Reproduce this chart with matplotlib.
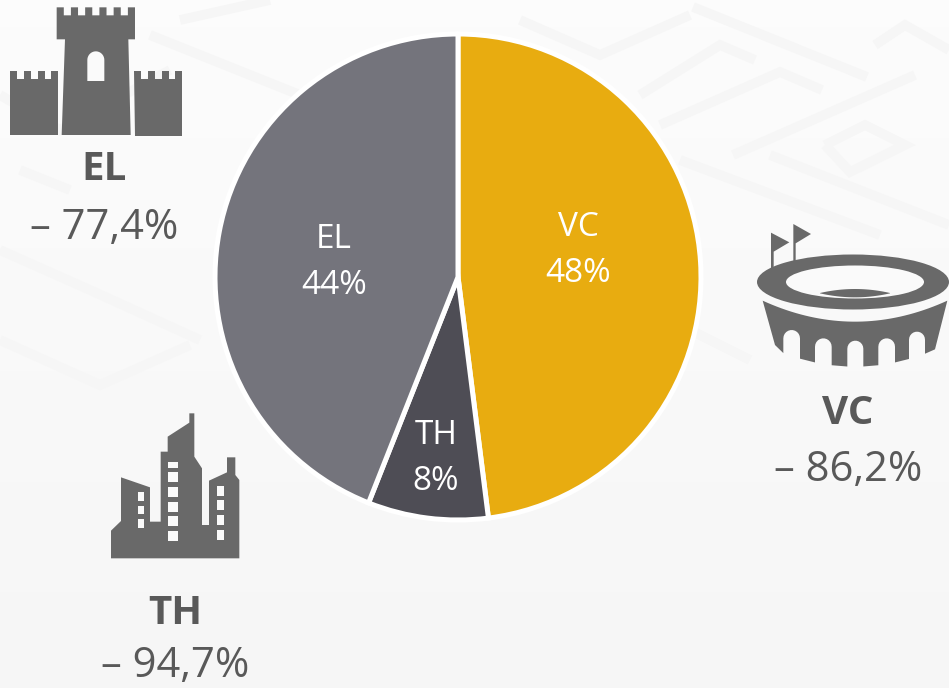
import numpy as np
import matplotlib
matplotlib.use("Agg")
import matplotlib.pyplot as plt
from matplotlib.patches import Polygon, Ellipse, Rectangle

# values
categories = ["VC", "TH", "EL"]
shares = [48, 8, 44]
changes = ["– 86,2%", "– 94,7%", "– 77,4%"]
colors = ["#E8AC10", "#4E4D55", "#74747C"]

W, H = 949, 688
icon_col = "#696969"
text_col = "#595959"
hole_col = "#FAFAFA"

plt.rcParams["font.family"] = ["Open Sans", "DejaVu Sans"]

fig = plt.figure(figsize=(W / 100, H / 100), dpi=100, facecolor="#FAFAFA")

# whole figure axes, in picture pixels, for background + icons + text
bg = fig.add_axes([0, 0, 1, 1], zorder=0)
bg.imshow(np.linspace(0.985, 0.962, 50).reshape(-1, 1), cmap="gray", vmin=0, vmax=1,
          extent=(0, W, H, 0), aspect="auto", zorder=0)
bg.set_xlim(0, W)
bg.set_ylim(H, 0)
bg.axis("off")

# faint maze in the background
maze = [
    [(693, 7), (867, 77)],
    [(640, 95), (720, 45), (755, 60)],
    [(660, 125), (780, 72), (822, 90)],
    [(733, 155), (915, 75)],
    [(875, 45), (905, 25), (949, 50)],
    [(825, 145), (865, 125), (905, 145), (850, 172), (825, 145)],
    [(680, 160), (880, 235)],
    [(770, 155), (949, 225)],
    [(520, 20), (600, 55), (690, 15)],
    [(0, 95), (60, 130), (170, 70)],
    [(150, 35), (300, 95)],
    [(180, 20), (270, 0)],
    [(0, 250), (90, 290), (200, 340)],
    [(0, 340), (100, 385), (190, 345)],
    [(20, 170), (70, 190)],
    [(690, 330), (750, 360)],
]
for line in maze:
    xs, ys = zip(*line)
    bg.plot(xs, ys, color="#F6F6F6", lw=7, solid_capstyle="butt", solid_joinstyle="miter", zorder=0.5)


def poly(pts, ox=0, oy=0, color=icon_col, scale=1 / 3):
    pts = [(ox + x * scale, oy + y * scale) for x, y in pts]
    bg.add_patch(Polygon(pts, closed=True, fc=color, ec="none", zorder=2))


def crenel(x0, x1, ytop, ygap, n):
    # top edge with merlons, left to right
    pts = []
    step = (x1 - x0) / (2 * n - 1)
    for i in range(2 * n - 1):
        y = ytop if i % 2 == 0 else ygap
        pts += [(x0 + i * step, y), (x0 + (i + 1) * step, y)]
    return pts


# castle (EL)
poly(crenel(170, 405, 22, 46, 6) + [(405, 118), (385, 118), (392, 405), (185, 405), (195, 118), (170, 118)])
poly(crenel(30, 175, 212, 236, 4) + [(175, 405), (30, 405)])
poly(crenel(402, 547, 214, 238, 4) + [(547, 407), (404, 407)])
t = np.linspace(np.pi, 0, 20)
poly([(262, 243)] + [(287.5 + 25.5 * np.cos(a), 180 - 26 * np.sin(a)) for a in t] + [(313, 243)], color=hole_col)

# stadium (VC)
ox, oy = 740, 210
poly([(93, 68), (148, 97), (101, 125), (101, 180), (93, 180)], ox, oy)
poly([(160, 42), (213, 72), (167, 100), (167, 155), (160, 155)], ox, oy)
bg.add_patch(Ellipse((853, 282), 192, 55, fc=icon_col, ec="none", zorder=2))
bg.add_patch(Ellipse((855, 282), 138, 33, fc=hole_col, ec="none", zorder=2))
lens = np.linspace(240, 450, 30)
poly([(x, 249 - 12 * (1 - ((x - 345) / 105) ** 2)) for x in lens]
     + [(x, 250 + 12 * (1 - ((x - 345) / 105) ** 2)) for x in lens[::-1]], ox, oy)

top_edge = [(x, 272 + 63 * (1 - ((x - 345) / 277) ** 2)) for x in np.linspace(68, 622, 40)]


def lower(x):
    return 415 + 55 * (1 - ((x - 345) / 250) ** 2)


arches = [(130, 180, 360), (225, 275, 385), (322, 370, 392), (415, 465, 385), (507, 555, 365)]
outline = list(top_edge) + [(585, 418)]
for x0, x1, ytop in arches[::-1]:
    outline.append((x1, lower(x1)))
    r = (x1 - x0) / 2
    for a in np.linspace(0, np.pi, 12):
        outline.append(((x0 + x1) / 2 + r * np.cos(a), ytop + r - r * np.sin(a)))
    outline.append((x0, lower(x0)))
outline.append((105, 405))
poly(outline, ox, oy)

# city (TH)
ox, oy = 90, 400
poly([(63, 475), (63, 392), (93, 363), (93, 232), (180, 262), (180, 365), (212, 365), (212, 155),
      (233, 155), (233, 110), (298, 68), (298, 40), (313, 40), (313, 170), (336, 205), (336, 375),
      (357, 375), (357, 242), (411, 217), (411, 172), (436, 172), (436, 225), (448, 240), (448, 475)], ox, oy)
windows = {
    (143, 163): [(277, 303), (317, 343), (357, 383)],
    (233, 265): [(187, 203), (217, 247), (261, 291), (305, 335), (349, 379), (393, 423)],
    (380, 402): [(257, 287), (300, 331), (345, 375), (389, 419)],
}
for (x0, x1), rows in windows.items():
    for y0, y1 in rows:
        bg.add_patch(Rectangle((ox + x0 / 3, oy + y0 / 3), (x1 - x0) / 3, (y1 - y0) / 3,
                               fc=hole_col, ec="none", zorder=3))

# pie, radius 243 px around (458, 277)
cx, cy, rad = 458, 277, 243
side = rad * 2 * 1.25
ax = fig.add_axes([(cx - side / 2) / W, 1 - (cy + side / 2) / H, side / W, side / H], zorder=1)
ax.patch.set_alpha(0)
ax.pie(shares, colors=colors, startangle=90, counterclock=False,
       wedgeprops={"edgecolor": "white", "linewidth": 3.6})
ax.set_xlim(-1.25, 1.25)
ax.set_ylim(-1.25, 1.25)

# labels inside the slices
slice_pos = [(578, 228, 274), (436, 436, 482), (334, 239, 285)]
for cat, share, (x, y1, y2) in zip(categories, shares, slice_pos):
    opts = dict(color="white", fontsize=24, ha="center", va="center", zorder=5)
    ax.text((x - cx) / rad, (cy - y1) / rad, cat, **opts)
    ax.text((x - cx) / rad, (cy - y2) / rad, f"{share}%", **opts)

# labels beside the icons
side_pos = [(848, 414, 470), (175, 614, 666), (104, 169, 228)]
for cat, change, (x, y1, y2) in zip(categories, changes, side_pos):
    bg.text(x, y1, cat, color=text_col, fontsize=29, fontweight="bold", ha="center", va="center", zorder=4)
    bg.text(x, y2, change, color=text_col, fontsize=30, ha="center", va="center", zorder=4)

fig.savefig("out.png", dpi=100)
